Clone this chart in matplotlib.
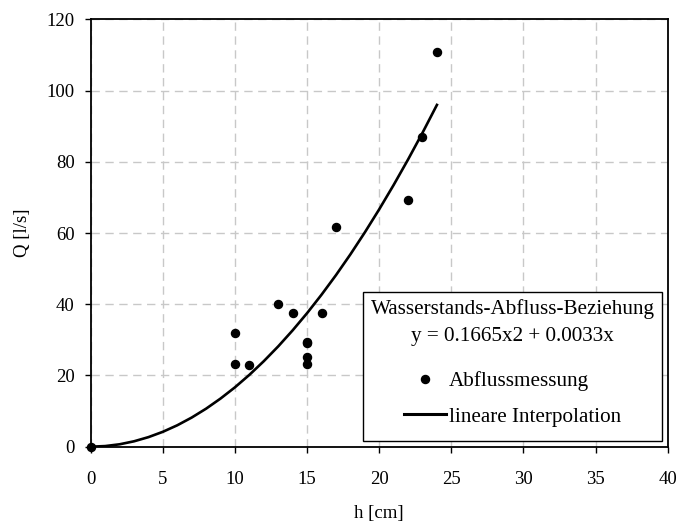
import matplotlib
matplotlib.use("Agg")
import matplotlib.pyplot as plt
from matplotlib.lines import Line2D

plt.rcParams['font.family'] = ['Liberation Serif', 'DejaVu Serif']

# Measured points (Abflussmessung)
h_meas = [0, 10, 10, 11, 13, 14, 15, 15, 15, 15, 16, 17, 22, 23, 24]
q_meas = [0, 32.0, 23.3, 22.8, 40.1, 37.5, 29.5, 29.0, 25.1, 23.3, 37.5, 61.8, 69.2, 87.0, 110.9]

# Rating curve (lineare Interpolation)
h_curve = [0, 1, 2, 3, 4, 5, 6, 7, 8, 9, 10, 11, 12, 13, 14, 15, 16, 17, 18, 19, 20, 21, 22, 23, 24]
q_curve = [0, 0.17, 0.67, 1.51, 2.68, 4.18, 6.01, 8.18, 10.68, 13.52, 16.68, 20.18, 24.02,
           28.18, 32.68, 37.51, 42.68, 48.17, 54.0, 60.17, 66.67, 73.5, 80.66, 88.15, 95.98]

x_ticks = [0, 5, 10, 15, 20, 25, 30, 35, 40]
y_ticks = [0, 20, 40, 60, 80, 100, 120]

legend_title = "Wasserstands-Abfluss-Beziehung\ny = 0.1665x2 + 0.0033x"
label_points = "Abflussmessung"
label_line = "lineare Interpolation"

fig = plt.figure(figsize=(6.77, 5.27), dpi=100)
ax = fig.add_axes([0.134, 0.1524, 0.8523, 0.8108])

ax.plot(h_curve, q_curve, color='black', linewidth=1.9, zorder=3)
ax.plot(h_meas, q_meas, linestyle='none', marker='o', markersize=5.8,
        color='black', zorder=4, clip_on=False)

ax.set_xlim(0, 40)
ax.set_ylim(0, 120)
ax.set_xticks(x_ticks)
ax.set_yticks(y_ticks)
ax.tick_params(direction='out', length=4.5, width=1, labelsize=13.5, colors='black')
ax.tick_params(axis='x', pad=13)
ax.tick_params(axis='y', pad=7)

ax.grid(True, color='#c8c8c8', linestyle=(0, (6, 4)), linewidth=1)
ax.set_axisbelow(True)
for s in ax.spines.values():
    s.set_linewidth(1.3)
    s.set_color('black')

ax.set_xlabel("h [cm]", fontsize=13.5, labelpad=12)
ax.set_ylabel("Q [l/s]", fontsize=13.5, labelpad=11)

handles = [Line2D([], [], linestyle='none', marker='o', markersize=5.8, color='black'),
           Line2D([], [], color='black', linewidth=2.2)]
leg = ax.legend(handles, [label_points, label_line], title=legend_title,
                loc='lower right', bbox_to_anchor=(0.990, 0.0133),
                fontsize=15.2, title_fontsize=15.2, frameon=True, fancybox=False,
                edgecolor='black', framealpha=1, borderpad=0.35,
                labelspacing=0.75, handlelength=2.0, handletextpad=0.15,
                borderaxespad=0)
leg.get_title().set_multialignment('center')
leg.get_title().set_linespacing(1.55)
leg._legend_box.sep = 13
leg._legend_handle_box.pad = 5
leg.get_frame().set_linewidth(1.0)

fig.savefig("out.png", dpi=100)
